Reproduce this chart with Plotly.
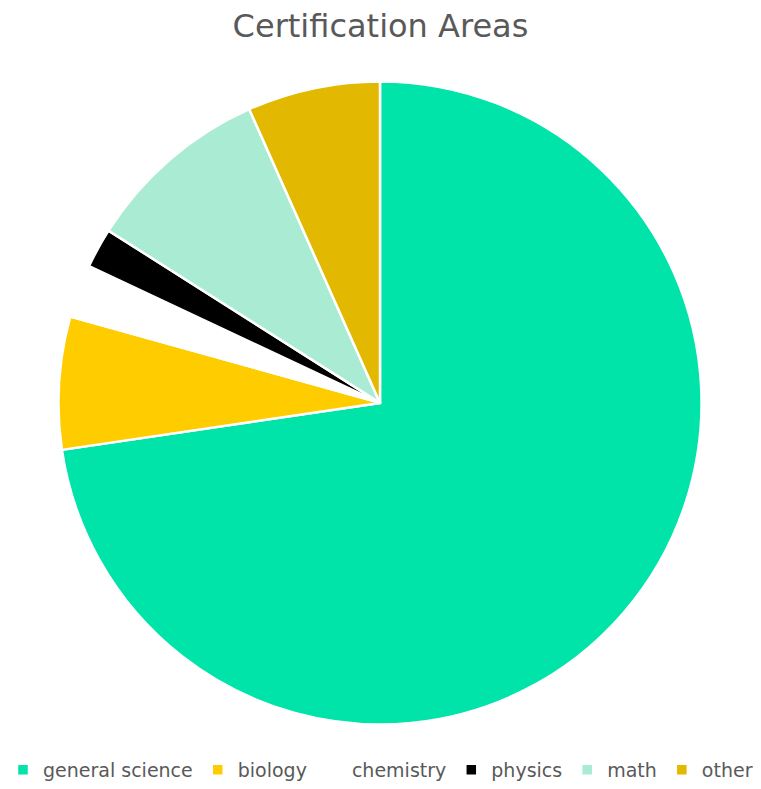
import plotly.graph_objects as go

# Certification areas and number of certifications in each
areas = ["general science", "biology", "chemistry", "physics", "math", "other"]
counts = [109, 10, 4, 3, 14, 10]
slice_colors = ["#00E3A9", "#FFCC00", "#FFFFFF", "#000000", "#A9EBD3", "#E3B800"]

W, H = 761, 789

fig = go.Figure(
    go.Pie(
        labels=areas,
        values=counts,
        sort=False,
        direction="clockwise",
        rotation=0,
        textinfo="none",
        hoverinfo="label+value+percent",
        marker=dict(colors=slice_colors, line=dict(color="#FFFFFF", width=2.5)),
        domain=dict(x=[56 / W, 704 / W], y=[1 - 730 / H, 1 - 82 / H]),
    )
)

fig.update_layout(
    width=W,
    height=H,
    margin=dict(l=0, r=0, t=0, b=0),
    paper_bgcolor="#FFFFFF",
    font=dict(family="DejaVu Sans", color="#595959"),
    title=dict(
        text="Certification Areas",
        x=0.5,
        xanchor="center",
        y=1 - 26 / H,
        yanchor="middle",
        font=dict(size=32, color="#595959", family="DejaVu Sans"),
    ),
    showlegend=True,
    legend=dict(
        orientation="h",
        x=0.5,
        xanchor="center",
        y=1 - 776 / H,
        yanchor="middle",
        font=dict(size=19, color="#595959"),
        itemwidth=30,
        traceorder="normal",
    ),
)

fig.write_html("out.html")
